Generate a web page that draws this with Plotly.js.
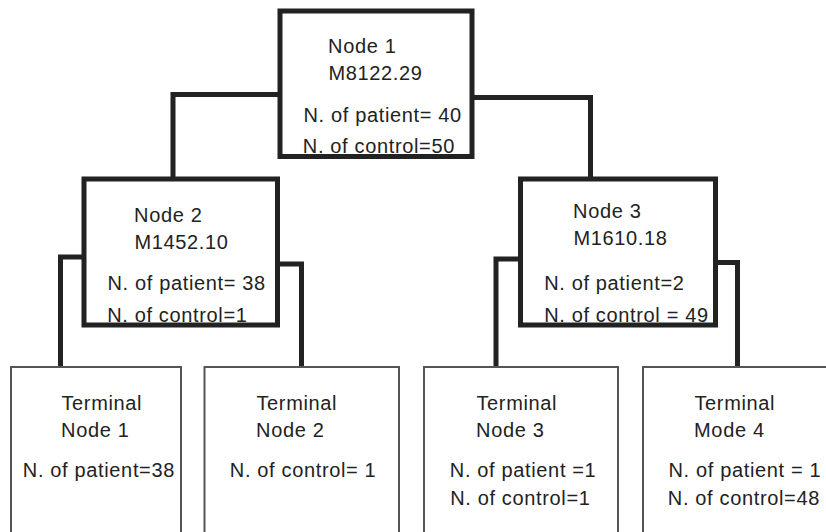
<!DOCTYPE html>
<html>
<head>
<meta charset="utf-8">
<script src="https://cdn.plot.ly/plotly-3.0.1.min.js"></script>
<style>
html,body{margin:0;padding:0;background:#fff;}
#chart{width:826px;height:532px;}
#chart .annotation-text{letter-spacing:0.65px;}
</style>
</head>
<body>
<div id="chart"></div>
<script>
// ---- data ----
var nodeTitles = ["Node 1", "Node 2", "Node 3"];
var nodeSplits = ["M8122.29", "M1452.10", "M1610.18"];
var nodePatientLabels = ["N. of patient= 40", "N. of patient= 38", "N. of patient=2"];
var nodeControlLabels = ["N. of control=50", "N. of control=1", "N. of control = 49"];

var termTitles = ["Terminal", "Terminal", "Terminal", "Terminal"];
var termNames = ["Node 1", "Node 2", "Node 3", "Mode 4"];
var termLine1 = ["N. of patient=38", "N. of control= 1", "N. of patient =1", "N. of patient = 1"];
var termLine2 = ["", "", "N. of control=1", "N. of control=48"];

// ---- layout geometry (pixel space) ----
var nodeBox = [
  {x0: 280, x1: 472, y0: 11, y1: 156.5},
  {x0: 84, x1: 277.5, y0: 179, y1: 325},
  {x0: 520.5, x1: 715.5, y0: 179, y1: 325}
];
var nodeText = [
  {tx: 327, ty: 46, sx: 302, sy1: 115, sy2: 146},
  {tx: 133, ty: 214.5, sx: 106, sy1: 283, sy2: 314.5},
  {tx: 572, ty: 210.5, sx: 543, sy1: 282.5, sy2: 314.5}
];
var termBox = [
  {x0: 11, x1: 181},
  {x0: 204.5, x1: 399},
  {x0: 424, x1: 618},
  {x0: 643, x1: 832}
];
var termText = [
  {tx: 60, sx: 22},
  {tx: 255, sx: 229},
  {tx: 475, sx: 449},
  {tx: 693, sx: 667}
];
var termTop = 367, termBottom = 545;
var connectors = [
  // [fromX, y, toX, bottomY]
  [280, 94.5, 173, 179],
  [472, 97.5, 590.5, 179],
  [84, 257, 60.5, termTop],
  [277.5, 264, 301.5, termTop],
  [520.5, 259, 496, termTop],
  [715.5, 262.5, 737.5, termTop]
];

var thick = {color: "#222222", width: 5};
var thin = {color: "#555555", width: 2};
var shapes = [];
connectors.forEach(function(c){
  shapes.push({type: "path", xref: "x", yref: "y",
    path: "M" + c[0] + "," + c[1] + " L" + c[2] + "," + c[1] + " L" + c[2] + "," + c[3],
    line: {color: thick.color, width: thick.width}, layer: "above"});
});
nodeBox.forEach(function(b){
  shapes.push({type: "rect", xref: "x", yref: "y", x0: b.x0, x1: b.x1, y0: b.y0, y1: b.y1,
    line: thick, fillcolor: "rgba(0,0,0,0)", layer: "above"});
});
termBox.forEach(function(b){
  shapes.push({type: "rect", xref: "x", yref: "y", x0: b.x0, x1: b.x1, y0: termTop, y1: termBottom,
    line: thin, fillcolor: "rgba(0,0,0,0)", layer: "above"});
});

var font = {family: "Liberation Sans, Arial, sans-serif", size: 20, color: "#222222"};
var spacing = 0.65;
var annotations = [];
function addText(x, y, s){
  if (!s) return;
  annotations.push({xref: "x", yref: "y", x: x, y: y, text: s, showarrow: false,
    xanchor: "left", yanchor: "middle", font: font, borderpad: 0,
    xshift: spacing * s.length / 2});
}
for (var i = 0; i < nodeTitles.length; i++){
  var t = nodeText[i];
  addText(t.tx, t.ty, nodeTitles[i]);
  addText(t.tx, t.ty + 27, nodeSplits[i]);
  addText(t.sx, t.sy1, nodePatientLabels[i]);
  addText(t.sx, t.sy2, nodeControlLabels[i]);
}
for (var j = 0; j < termTitles.length; j++){
  var tt = termText[j];
  addText(tt.tx, 402.5, termTitles[j]);
  addText(tt.tx, 429.5, termNames[j]);
  addText(tt.sx, 470, termLine1[j]);
  addText(tt.sx, 497.5, termLine2[j]);
}

var layout = {
  width: 826, height: 532,
  margin: {l: 0, r: 0, t: 0, b: 0},
  paper_bgcolor: "#ffffff", plot_bgcolor: "#ffffff",
  xaxis: {range: [0, 826], visible: false, fixedrange: true},
  yaxis: {range: [532, 0], visible: false, fixedrange: true},
  showlegend: false,
  shapes: shapes,
  annotations: annotations
};
Plotly.newPlot("chart", [], layout, {staticPlot: true, displayModeBar: false});
</script>
</body>
</html>
